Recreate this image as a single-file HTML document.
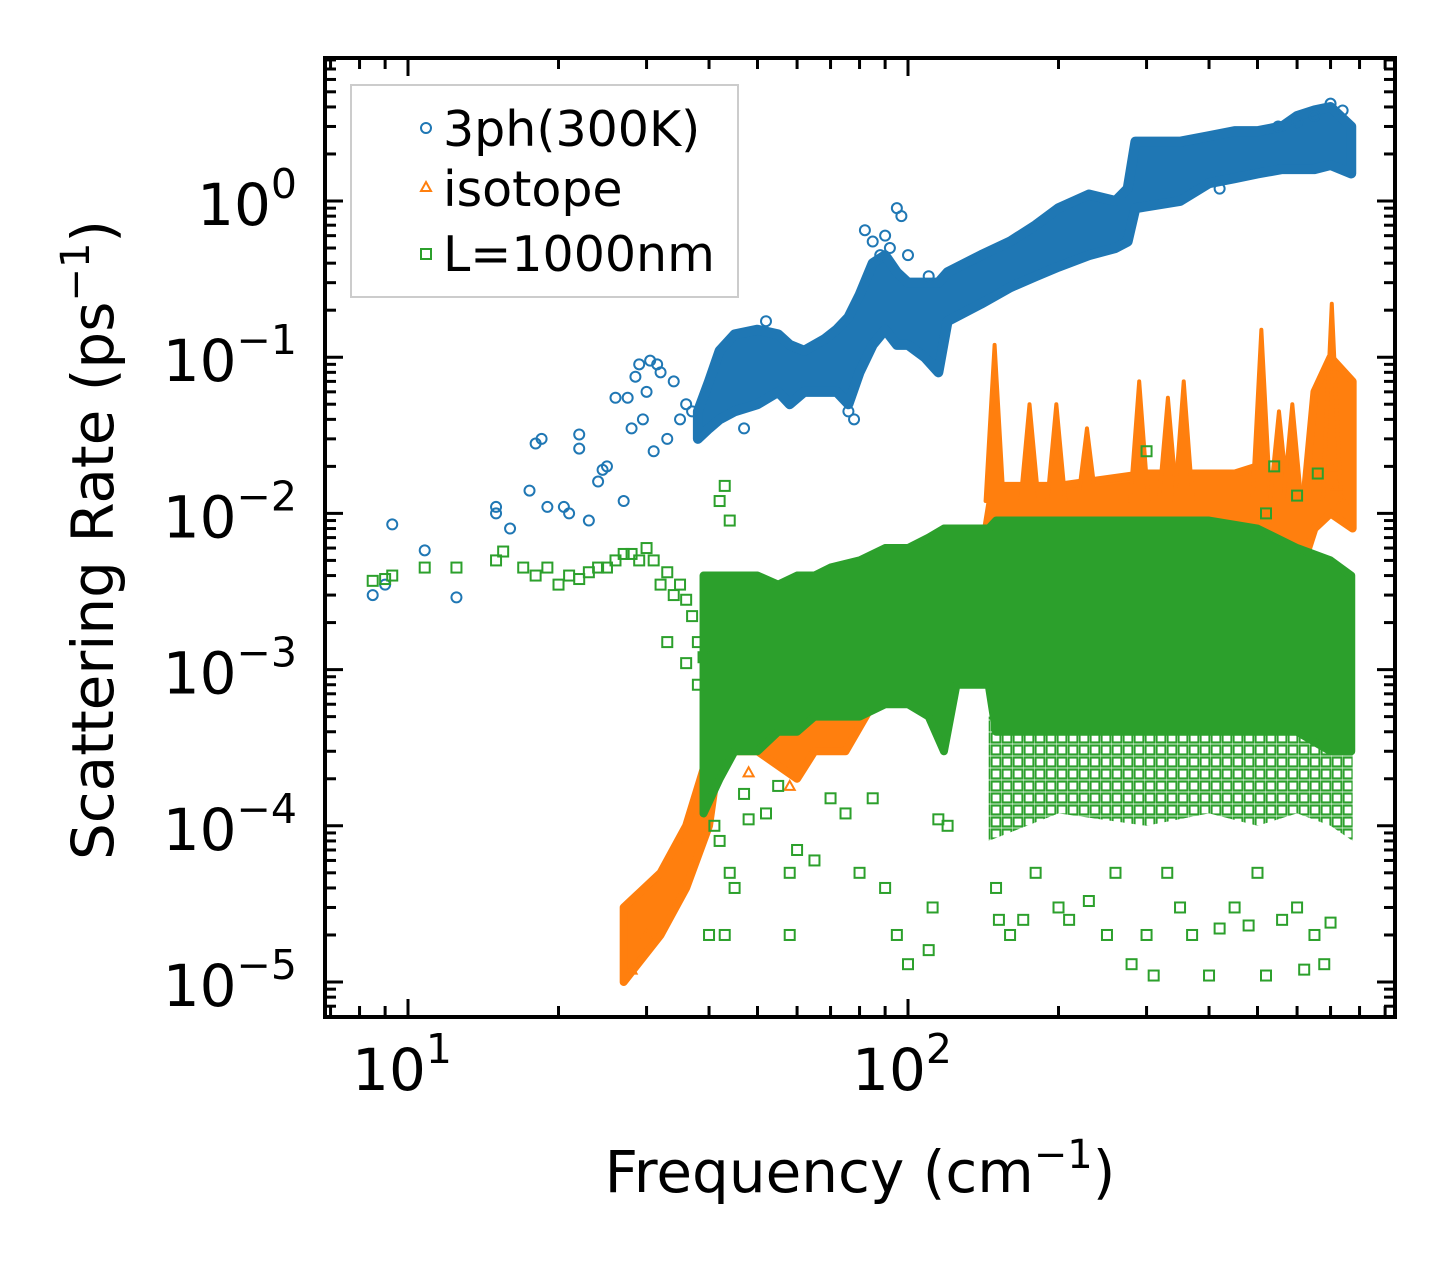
<!DOCTYPE html>
<html><head><meta charset="utf-8"><style>
html,body{margin:0;padding:0;background:#fff;}
svg{display:block;font-family:"DejaVu Sans","Liberation Sans",sans-serif;}
</style></head><body>
<svg id="chart" width="1455" height="1265" viewBox="0 0 1455 1265" xmlns="http://www.w3.org/2000/svg">
<defs>
<pattern id="gsq" width="11" height="12" patternUnits="userSpaceOnUse">
<rect x="1.5" y="1.5" width="9" height="9" fill="none" stroke="#2ca02c" stroke-width="2.2"/>
</pattern>
</defs>
<rect width="1455" height="1265" fill="#fff"/>
<g id="plot"></g>
<g id="axes"></g>
<text x="860" y="1192" font-size="58" text-anchor="middle">Frequency (cm<tspan dy="-24" font-size="40">−1</tspan><tspan dy="24">)</tspan></text>
<text transform="translate(113,540) rotate(-90)" font-size="58" text-anchor="middle">Scattering Rate (ps<tspan dy="-24" font-size="40">−1</tspan><tspan dy="24">)</tspan></text>
<g>
<rect x="351" y="85" width="387" height="212" fill="#fff" fill-opacity="0.8" stroke="#ccc" stroke-width="2"/>
<circle cx="426" cy="128" r="5" fill="none" stroke="#1f77b4" stroke-width="2"/>
<text x="443" y="146" font-size="49">3ph(300K)</text>
<polygon points="426,182 431,191 421,191" fill="none" stroke="#ff7f0e" stroke-width="2"/>
<text x="443" y="206" font-size="49">isotope</text>
<rect x="421" y="249" width="10" height="10" fill="none" stroke="#2ca02c" stroke-width="2"/>
<text x="443" y="271" font-size="49">L=1000nm</text>
</g>
</svg>
<script>
// ---- data ----
const bluePtsFreq = [8.5,9,9.3,10.8,12.5,15,15,16,17.5,18,18.5,19,20.5,21,22,22,23,24,24.5,25,26,27,27.5,28,28.5,29,29.5,30,30.5,31,31.5,32,33,34,35,36,37,90,92,95,97,100,85,88,82,78,76,52,47,110,650,700,740,600,550,420];
const bluePtsRate = [0.003,0.0035,0.0085,0.0058,0.0029,0.011,0.01,0.008,0.014,0.028,0.03,0.011,0.011,0.01,0.032,0.026,0.009,0.016,0.019,0.02,0.055,0.012,0.055,0.035,0.075,0.09,0.04,0.06,0.095,0.025,0.09,0.08,0.03,0.07,0.04,0.05,0.045,0.6,0.5,0.9,0.8,0.45,0.55,0.45,0.65,0.04,0.045,0.17,0.035,0.33,3.5,4.2,3.8,3.2,3.0,1.2];
const blueBandFreq = [38,40,42,45,50,55,58,62,68,72,76,80,85,90,95,100,108,115,120,140,160,180,200,230,260,275,285,350,400,450,500,560,600,650,700,770];
const blueBandLo = [0.03,0.035,0.04,0.045,0.05,0.06,0.05,0.06,0.06,0.06,0.05,0.08,0.12,0.15,0.12,0.12,0.1,0.08,0.17,0.22,0.28,0.33,0.38,0.45,0.5,0.55,0.9,1.0,1.3,1.4,1.5,1.6,1.6,1.6,1.7,1.5];
const blueBandHi = [0.045,0.07,0.11,0.14,0.15,0.14,0.12,0.11,0.13,0.15,0.18,0.25,0.4,0.45,0.35,0.3,0.3,0.3,0.35,0.45,0.55,0.7,0.9,1.1,1.0,1.2,2.4,2.4,2.6,2.8,2.8,3.0,3.5,3.8,4.0,3.0];

const orangeBandFreq = [27,32,36,40,42,50,60,65,75,85,100,120,140,148,200,300,450,500,560,620,650,700,775];
const orangeBandLo = [0.00001,0.00002,0.00004,0.0001,0.0003,0.0003,0.0002,0.0003,0.0003,0.0006,0.001,0.002,0.003,0.005,0.006,0.006,0.006,0.006,0.006,0.005,0.008,0.01,0.008];
const orangeBandHi = [0.00003,0.00005,0.0001,0.0003,0.001,0.0015,0.001,0.001,0.0013,0.002,0.003,0.004,0.005,0.015,0.015,0.018,0.018,0.02,0.015,0.012,0.06,0.1,0.07];
const orangeSpikeFreq = [149,175,198,228,290,331,356,509,552,587,704];
const orangeSpikeTop = [0.12,0.05,0.05,0.035,0.07,0.055,0.07,0.15,0.045,0.05,0.22];
const orangePtsFreq = [28,30,48,58,700,720,760,740];
const orangePtsRate = [0.000012,0.00002,0.00022,0.00018,0.02,0.015,0.0035,0.012];

const greenBandFreq = [39,42,45,50,55,60,65,70,80,90,100,110,118,125,145,150,300,400,500,600,700,770];
const greenBandLo = [0.00012,0.0002,0.0003,0.0003,0.0004,0.0004,0.0005,0.0005,0.0005,0.0006,0.0006,0.0005,0.0003,0.0008,0.0008,0.0004,0.0004,0.0004,0.0004,0.0004,0.0003,0.0003];
const greenBandHi = [0.004,0.004,0.004,0.004,0.0035,0.004,0.004,0.0045,0.005,0.006,0.006,0.007,0.008,0.008,0.008,0.009,0.009,0.009,0.008,0.006,0.005,0.004];
const greenSparseFreq = [145,200,300,400,500,600,700,775];
const greenSparseLo = [0.00008,0.00012,0.0001,0.00012,0.0001,0.00012,0.0001,0.00008];
const greenSparseHi = [0.0005,0.0005,0.0005,0.0005,0.0005,0.0005,0.0004,0.0004];
const greenPtsFreq = [8.5,9,9.3,10.8,12.5,15,15.5,17,18,19,20,21,22,23,24,25,26,27,28,29,30,31,32,33,34,35,36,37,38,39,33,36,38,42,44,45,43,47,48,52,55,58,58,60,65,70,75,80,85,90,95,100,110,112,115,120,150,152,160,170,180,200,210,230,250,260,280,300,310,330,350,370,400,420,450,480,500,520,560,600,620,650,680,700,40,41,42,43,44,520,540,600,660,300];
const greenPtsRate = [0.0037,0.0038,0.004,0.0045,0.0045,0.005,0.0057,0.0045,0.004,0.0045,0.0035,0.004,0.0038,0.0042,0.0045,0.0045,0.005,0.0055,0.0055,0.005,0.006,0.005,0.0035,0.0042,0.003,0.0035,0.0028,0.0022,0.0015,0.0012,0.0015,0.0011,0.0008,0.00008,0.00005,0.00004,0.00002,0.00016,0.00011,0.00012,0.00018,0.00005,0.00002,0.00007,0.00006,0.00015,0.00012,0.00005,0.00015,0.00004,0.00002,0.000013,0.000016,0.00003,0.00011,0.0001,0.00004,0.000025,0.00002,0.000025,0.00005,0.00003,0.000025,0.000033,0.00002,0.00005,0.000013,0.00002,0.000011,0.00005,0.00003,0.00002,0.000011,0.000022,0.00003,0.000023,0.00005,0.000011,0.000025,0.00003,0.000012,0.00002,0.000013,0.000024,0.00002,0.0001,0.012,0.015,0.009,0.01,0.02,0.013,0.018,0.025];

// ---- axes ----
const L=325,R=1395,T=58,B=1017;
const xMinL=1-83/500, xMaxL=2+487/500;
const yTopL=143/156.2, yBotL=-5-35/156.2;
const xs=v=>L+(Math.log10(v)-xMinL)/(xMaxL-xMinL)*(R-L);
const ys=v=>T+(yTopL-Math.log10(v))/(yTopL-yBotL)*(B-T);
const NS="http://www.w3.org/2000/svg";
const plot=document.getElementById('plot'), axes=document.getElementById('axes');
function mk(tag,attrs,parent){const e=document.createElementNS(NS,tag);for(const k in attrs)e.setAttribute(k,attrs[k]);parent.appendChild(e);return e;}
const clip=mk('clipPath',{id:'cp'},plot);mk('rect',{x:L,y:T,width:R-L,height:B-T},clip);
const g=mk('g',{'clip-path':'url(#cp)'},plot);

function band(f,lo,hi,color,name,fill,sw){
  let pts=f.map((v,i)=>xs(v)+','+ys(hi[i]));
  for(let i=f.length-1;i>=0;i--)pts.push(xs(f[i])+','+ys(lo[i]));
  const p=mk('polygon',{points:pts.join(' '),fill:fill||color,stroke:sw?color:'none','stroke-width':sw||0,'stroke-linejoin':'round'},g);
  
  
}
function spikes(f,top,base,color,name){
  f.forEach((v,i)=>{
    const x=xs(v);
    const p=mk('polygon',{points:`${x-9},${ys(base)} ${x},${ys(top[i])} ${x+9},${ys(base)}`,fill:color,stroke:color,'stroke-width':4,'stroke-linejoin':'round'},g);
    
    
  });
}
function pts(f,r,color,shape,name){
  f.forEach((v,i)=>{
    const x=xs(v),y=ys(r[i]);let e;
    if(shape==='c')e=mk('circle',{cx:x,cy:y,r:5,fill:'none',stroke:color,'stroke-width':2},g);
    else if(shape==='t')e=mk('polygon',{points:`${x},${y-5} ${x+5},${y+4} ${x-5},${y+4}`,fill:'none',stroke:color,'stroke-width':2},g);
    else e=mk('rect',{x:x-5,y:y-5,width:10,height:10,fill:'none',stroke:color,'stroke-width':2},g);
    
    
  });
}
band(blueBandFreq,blueBandLo,blueBandHi,'#1f77b4','band-3ph',null,10);
pts(bluePtsFreq,bluePtsRate,'#1f77b4','c','point-3ph');
band(orangeBandFreq,orangeBandLo,orangeBandHi,'#ff7f0e','band-isotope',null,8);
spikes(orangeSpikeFreq,orangeSpikeTop,0.012,'#ff7f0e','spike-isotope');
pts(orangePtsFreq,orangePtsRate,'#ff7f0e','t','point-isotope');
band(greenSparseFreq,greenSparseLo,greenSparseHi,'#2ca02c','sparse-band-boundary','url(#gsq)',0);
band(greenBandFreq,greenBandLo,greenBandHi,'#2ca02c','band-boundary',null,8);
pts(greenPtsFreq,greenPtsRate,'#2ca02c','s','point-boundary');

// frame
const fr=mk('rect',{x:L,y:T,width:R-L,height:B-T,fill:'none',stroke:'#000','stroke-width':4},axes);


// x ticks
for(let d=0;d<=3;d++)for(let m=1;m<10;m++){
  const v=m*Math.pow(10,d);const x=xs(v);if(x<L||x>R)continue;
  const len=m===1?18:11;
  mk('line',{x1:x,y1:B,x2:x,y2:B-len,stroke:'#000','stroke-width':3},axes);
  mk('line',{x1:x,y1:T,x2:x,y2:T+len,stroke:'#000','stroke-width':3},axes);
  if(m===1&&(d===1||d===2)){
    const t=mk('text',{x:x-6,y:1090,'font-size':58,'text-anchor':'middle'},axes);
    
    
    t.innerHTML='10<tspan dy="-27" font-size="41">'+d+'</tspan>';
  }
}
// y ticks
for(let d=-6;d<=1;d++)for(let m=1;m<10;m++){
  const v=m*Math.pow(10,d);const y=ys(v);if(y<T||y>B)continue;
  const len=m===1?18:11;
  mk('line',{x1:L,y1:y,x2:L+len,y2:y,stroke:'#000','stroke-width':3},axes);
  mk('line',{x1:R,y1:y,x2:R-len,y2:y,stroke:'#000','stroke-width':3},axes);
  if(m===1){
    const t=mk('text',{x:297,y:y+24,'font-size':58,'text-anchor':'end'},axes);
    
    
    t.innerHTML='10<tspan dy="-27" font-size="41">'+(d<0?'−'+(-d):d)+'</tspan>';
  }
}
</script>
</body></html>
